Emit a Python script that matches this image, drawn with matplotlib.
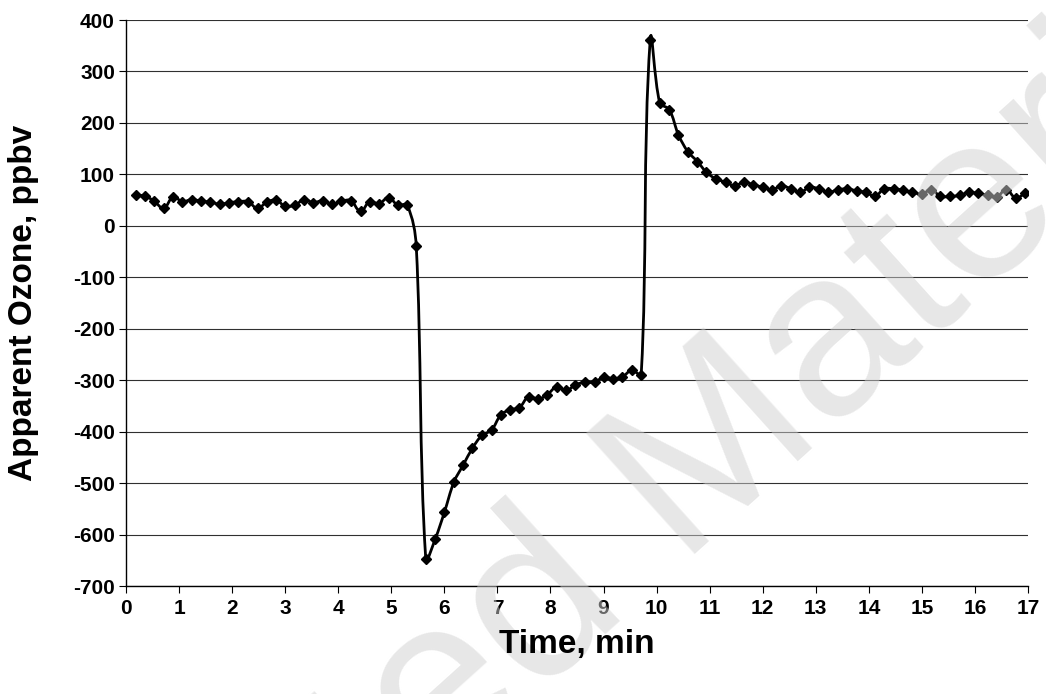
import numpy as np
import matplotlib
matplotlib.use("Agg")
import matplotlib.pyplot as plt
from matplotlib.path import Path
from matplotlib.patches import PathPatch

plt.rcParams['font.family'] = ['Liberation Sans', 'DejaVu Sans']

time_min = [0.18, 0.36, 0.53, 0.71, 0.89, 1.06, 1.24, 1.42, 1.59, 1.77,
            1.95, 2.12, 2.30, 2.48, 2.65, 2.83, 3.00, 3.18, 3.36, 3.53,
            3.71, 3.89, 4.06, 4.24, 4.42, 4.59, 4.77, 4.95, 5.12, 5.30,
            5.47, 5.65, 5.83, 6.00, 6.18, 6.36, 6.53, 6.71, 6.89, 7.06,
            7.24, 7.41, 7.59, 7.77, 7.94, 8.12, 8.30, 8.47, 8.65, 8.83,
            9.00, 9.18, 9.35, 9.53, 9.71, 9.88, 10.06, 10.24, 10.41, 10.59,
            10.77, 10.94, 11.12, 11.30, 11.47, 11.65, 11.82, 12.00, 12.18, 12.35,
            12.53, 12.71, 12.88, 13.06, 13.24, 13.41, 13.59, 13.77, 13.94, 14.12,
            14.29, 14.47, 14.65, 14.82, 15.00, 15.18, 15.35, 15.53, 15.71, 15.88,
            16.06, 16.24, 16.41, 16.59, 16.77, 16.94]

ozone_ppbv = [59, 58, 48, 35, 56, 47, 51, 48, 46, 42,
              45, 47, 47, 34, 46, 50, 38, 40, 51, 45,
              49, 42, 48, 49, 29, 47, 43, 55, 40, 40,
              -39, -648, -608, -557, -498, -464, -432, -407, -397, -368,
              -357, -354, -332, -337, -328, -313, -320, -309, -304, -304,
              -294, -297, -294, -281, -289, 362, 239, 226, 177, 144,
              125, 104, 91, 85, 78, 85, 80, 75, 70, 78,
              72, 65, 75, 72, 65, 70, 72, 68, 65, 58,
              72, 72, 69, 65, 62, 70, 57, 57, 59, 65,
              63, 59, 56, 70, 54, 63]

x_ticks = list(range(0, 18))
y_ticks = list(range(-700, 401, 100))

W, H = 1046, 694
fig = plt.figure(figsize=(W / 100, H / 100), dpi=100)
ax = fig.add_axes([126 / W, 1 - 586 / H, 902 / W, 566 / H])
ax.set_xlim(0, 17)
ax.set_ylim(-700, 400)

# Smoothed line computed in display space (length-scaled tangents, little overshoot)
pts_d = ax.transData.transform(np.column_stack([time_min, ozone_ppbv]))
n = len(pts_d)
tang = np.zeros_like(pts_d)
for i in range(n):
    a = pts_d[max(i - 1, 0)]
    b = pts_d[min(i + 1, n - 1)]
    v = b - a
    nv = np.hypot(*v)
    tang[i] = v / nv if nv > 0 else 0
verts = [pts_d[0]]
codes = [Path.MOVETO]
for i in range(n - 1):
    p1, p2 = pts_d[i], pts_d[i + 1]
    L = np.hypot(*(p2 - p1)) / 3.0
    verts += [p1 + tang[i] * L, p2 - tang[i + 1] * L, p2]
    codes += [Path.CURVE4] * 3
verts_data = ax.transData.inverted().transform(np.array(verts))
ax.add_patch(PathPatch(Path(verts_data, codes), facecolor='none', edgecolor='black',
                       lw=2.0, zorder=3, capstyle='round', joinstyle='round'))
ax.plot(time_min, ozone_ppbv, linestyle='none', marker='D', markersize=4.6,
        color='black', zorder=4)

ax.set_xticks(x_ticks)
ax.set_yticks(y_ticks)
ax.set_xticklabels([str(v) for v in x_ticks])
ax.set_yticklabels([str(v) for v in y_ticks])
ax.yaxis.grid(True, color='#303030', lw=0.8)
ax.set_axisbelow(True)
for s in ['top', 'right']:
    ax.spines[s].set_visible(False)
for s in ['left', 'bottom']:
    ax.spines[s].set_color('black')
    ax.spines[s].set_linewidth(1.0)
ax.tick_params(axis='both', direction='out', length=5, width=0.8, color='black',
               labelsize=15, pad=3)
ax.tick_params(axis='x', pad=4)
for lab in ax.get_xticklabels() + ax.get_yticklabels():
    lab.set_fontweight('bold')

fig.text(0.51, 0.11, 'Restricted Material', fontsize=170, color='#d0d0d0',
         alpha=0.5, rotation=42, ha='center', va='center', zorder=10)

fig.text(577 / W, 1 - 645 / H, 'Time, min', fontsize=24, fontweight='bold',
         ha='center', va='center', zorder=11)
fig.text(24 / W, 1 - 303 / H, 'Apparent Ozone, ppbv', fontsize=24, fontweight='bold',
         ha='center', va='center', rotation=90, zorder=11)

fig.savefig('out.png', dpi=100)
